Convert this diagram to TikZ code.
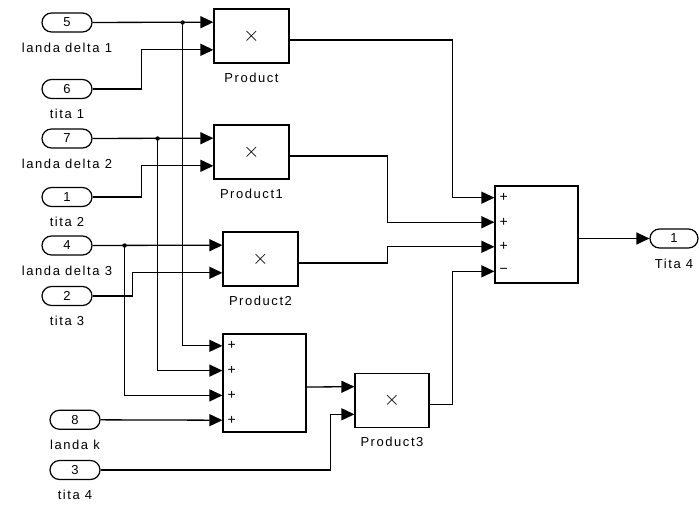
\documentclass[tikz,border=0pt]{standalone}
\usepackage{fontspec}
\newfontfamily\slfont[LetterSpace=12]{Liberation Sans}
\usetikzlibrary{positioning,calc,shapes.misc,arrows.meta}

\tikzset{
  port/.style={rounded rectangle, draw, line width=1.2pt, minimum width=50pt,
    minimum height=19pt, inner sep=0pt},
  plbl/.style={inner sep=0pt},
  blk/.style={draw, line width=1.2pt, minimum width=75pt, minimum height=54pt, inner sep=0pt},
  sumblk/.style={draw, line width=1.2pt, minimum width=83pt, minimum height=97pt, inner sep=0pt},
  sgn/.style={inner sep=0pt, font=\slfont\fontsize{14}{14}\selectfont},
  wire/.style={line width=1.3pt},
  sig/.style={wire, -{Triangle[length=13pt,width=12pt]}},
}

\begin{document}
\begin{tikzpicture}[x=1pt, y=-1pt, font=\slfont\fontsize{13}{15}\selectfont]
    \useasboundingbox (0,0) rectangle (699,504);

    % Blocs produit et somme
    \node[blk] (prA) at (251.5,36) {\fontsize{20}{20}\selectfont$\times$};
    \node[blk] (prB) at (251.5,152) {\fontsize{20}{20}\selectfont$\times$};
    \node[blk] (prC) at (260.5,259) {\fontsize{20}{20}\selectfont$\times$};
    \node[blk, minimum width=74pt] (prD) at (392,400.5) {\fontsize{20}{20}\selectfont$\times$};
    \node[sumblk] (sA) at (536.5,234.5) {};
    \node[sumblk, minimum height=98pt] (sB) at (264.5,383) {};

    \node[plbl, below=9pt of prA] (prA-lbl) {Product};
    \node[plbl, below=9pt of prB] (prB-lbl) {Product1};
    \node[plbl, below=9pt of prC] (prC-lbl) {Product2};
    \node[plbl, below=9pt of prD] (prD-lbl) {Product3};

    % Points d'entree / sortie des blocs
    \foreach \b in {prA,prB,prC,prD}{
        \coordinate (\b-i1) at ($(\b.north west)!.25!(\b.south west)$);
        \coordinate (\b-i2) at ($(\b.north west)!.75!(\b.south west)$);
        \coordinate (\b-o) at ([yshift=-4pt]\b.east);
    }
    \foreach \b in {sA,sB}{
        \foreach \k in {1,...,4}{
            \pgfmathsetmacro\fr{(2*\k-1)/8}
            \coordinate (\b-i\k) at ($(\b.north west)!\fr!(\b.south west)$);
        }
        \coordinate (\b-o) at ([yshift=-4pt]\b.east);
    }

    % Signes
    \foreach \k in {1,2,3}{
        \node[sgn, right=5pt] (sA-s\k) at (sA-i\k) {+};
    }
    \node[sgn, right=5pt] (sA-s4) at (sA-i4) {−};
    \foreach \k in {1,...,4}{
        \node[sgn, right=5pt] (sB-s\k) at (sB-i\k) {+};
    }

    % Ports d'entree
    \node[port] (p5) at (67,22.5) {5};
    \node[port] (p6) at (67,89) {6};
    \node[port] (p7) at (67,138.5) {7};
    \node[port] (p1) at (67,197) {1};
    \node[port] (p4) at (67,245.5) {4};
    \node[port] (p2) at (67,296) {2};
    \node[port] (p8) at (75,419.75) {8};
    \node[port] (p3) at (75,470) {3};
    \node[port, minimum width=48pt] (o1) at (674,238.5) {1};

    \node[plbl, below=10pt of p5] (p5-lbl) {landa delta 1};
    \node[plbl, below=10pt of p6] (p6-lbl) {tita 1};
    \node[plbl, below=10pt of p7] (p7-lbl) {landa delta 2};
    \node[plbl, below=10pt of p1] (p1-lbl) {tita 2};
    \node[plbl, below=10pt of p4] (p4-lbl) {landa delta 3};
    \node[plbl, below=10pt of p2] (p2-lbl) {tita 3};
    \node[plbl, below=10pt of p8] (p8-lbl) {landa k};
    \node[plbl, below=10pt of p3] (p3-lbl) {tita 4};
    \node[plbl, below=10pt of o1] (o1-lbl) {Tita 4};

    % Liaisons
    \coordinate (j5) at ([xshift=90pt]p5.east);
    \coordinate (j7) at ([xshift=65pt]p7.east);
    \coordinate (j4) at ([xshift=32pt]p4.east);

    \draw[sig] (p5) -- (prA-i1);
    \draw[sig] (p6) -| ([xshift=-72pt]prA-i2) -- (prA-i2);
    \draw[sig] (p7) -- (prB-i1);
    \draw[sig] (p1) -| ([xshift=-72pt]prB-i2) -- (prB-i2);
    \draw[sig] (p4) -- (prC-i1);
    \draw[sig] (p2) -| ([xshift=-90pt]prC-i2) -- (prC-i2);

    \draw[sig] (j5) |- (sB-i1);
    \draw[sig] (j7) |- (sB-i2);
    \draw[sig] (j4) |- (sB-i3);
    \draw[sig] (p8) -- (sB-i4);
    \foreach \j in {j5,j7,j4}{
        \fill (\j) circle (2.2pt);
    }

    \draw[sig] (sB-o) -- (prD-i1);
    \draw[sig] (p3) -| ([xshift=-24pt]prD-i2) -- (prD-i2);

    \draw[sig] (prA-o) -| ([xshift=-42pt]sA-i1) -- (sA-i1);
    \draw[sig] (prB-o) -| ([xshift=-107pt]sA-i2) -- (sA-i2);
    \draw[sig] (prC-o) -| ([xshift=-107pt]sA-i3) -- (sA-i3);
    \draw[sig] (prD-o) -| ([xshift=-42pt]sA-i4) -- (sA-i4);

    \draw[sig] (sA-o) -- (o1);
\end{tikzpicture}
\end{document}
